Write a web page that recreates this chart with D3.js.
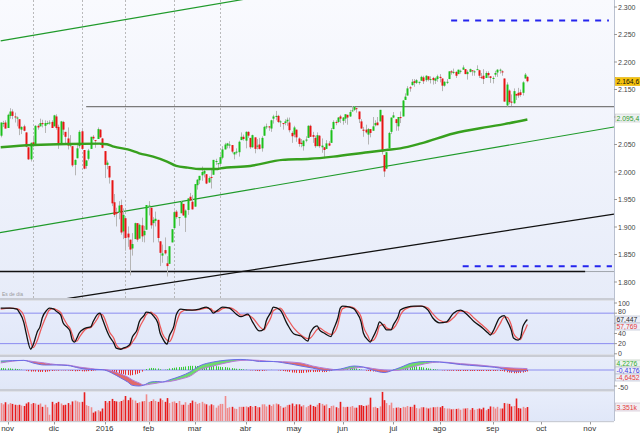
<!DOCTYPE html>
<html><head><meta charset="utf-8">
<script src="https://cdn.jsdelivr.net/npm/d3@7"></script>
<style>body{margin:0;background:#fff}svg{display:block;font-family:"Liberation Sans",Arial,sans-serif}</style>
</head><body><svg id="c" width="640" height="434"></svg>
<script>
// ---------- DATA (trading-day index 0 = 28 Oct 2015, 228 = 23 Sep 2016) ----------
const opens = [
2066,2088,2090,
2080,2102,2110,2101,2098,2096,2077,2083,2072,2045,2023,2054,2051,2084,2083,2089,2084,2089,2089,2091,
2083,2101,2082,2051,2091,2073,2061,2048,2047,2013,2025,2047,2074,2040,2011,2024,2042,2064,2058,2060,2077,2061,
2038,2013,2011,1985,1945,1927,1927,1940,1892,1916,1888,1877,1861,1878,1907,1879,1903,1885,1895,
1937,1935,1907,1911,1913,1874,1848,1858,1834,1833,1872,1898,1928,1917,1925,1942,1917,1931,1955,1946,
1937,1976,1985,1994,1997,1996,1981,1991,1995,2019,2015,2015,2026,2041,2048,2048,2049,2032,2037,2036,2058,2064,
2057,2073,2062,2045,2063,2046,2050,2043,2066,2082,2083,2079,2097,2100,2102,2091,2089,2089,2092,2090,2071,
2068,2077,2061,2053,2047,2057,2062,2084,2067,2062,2047,2066,2045,2045,2042,2052,2053,2078,2091,2091,2101,
2093,2097,2104,2101,2111,2113,2116,2110,2092,2077,2077,2068,2078,2075,2085,2090,2092,2103,2031,2006,2043,2073,
2099,2096,2083,2100,2101,2131,2139,2154,2158,2165,2162,2163,2166,2172,2167,2174,2169,2171,2166,2169,
2173,2170,2157,2163,2169,2183,2182,2182,2178,2183,2186,2187,2178,2182,2185,2182,2187,2185,2173,2175,2171,2180,2174,
2171,2177,2181,2186,2183,2170,2121,2148,2128,2125,2142,2144,2145,2144,2170,2173];
const highs = [
2090,2093,2094,
2106,2116,2114,2108,2101,2096,2083,2086,2072,2045,2054,2066,2085,2087,2097,2095,2094,2093,2094,2094,
2104,2105,2086,2093,2093,2073,2081,2067,2047,2023,2053,2076,2077,2040,2022,2042,2064,2067,2058,2081,2078,2062,
2038,2021,2011,1985,1960,1935,1947,1950,1934,1916,1901,1877,1889,1908,1907,1906,1917,1902,1940,
1947,1935,1918,1928,1913,1874,1868,1881,1847,1865,1896,1930,1931,1918,1947,1942,1932,1952,1962,1958,
1978,1987,1993,2010,2006,1996,1992,2006,2022,2024,2016,2032,2047,2053,2053,2056,2049,2036,2043,2057,2072,2068,
2074,2074,2062,2068,2063,2060,2062,2065,2084,2088,2083,2095,2104,2111,2104,2094,2089,2096,2099,2099,2074,
2084,2077,2063,2060,2058,2065,2085,2086,2073,2066,2072,2067,2061,2045,2058,2056,2080,2094,2094,2100,2104,
2100,2105,2104,2113,2120,2120,2117,2110,2096,2082,2086,2080,2078,2100,2094,2100,2113,2103,2031,2036,2073,2099,
2109,2096,2100,2110,2131,2143,2156,2156,2169,2169,2169,2164,2175,2175,2176,2174,2174,2173,2172,2177,
2178,2170,2165,2169,2183,2185,2188,2183,2186,2186,2194,2187,2185,2188,2185,2185,2194,2186,2180,2187,2183,2183,2174,
2174,2184,2187,2188,2185,2170,2163,2150,2141,2152,2142,2153,2150,2165,2180,2174];
const lows = [
2063,2082,2079,
2080,2097,2096,2090,2083,2067,2069,2074,2045,2022,2019,2045,2051,2077,2083,2081,2071,2086,2086,2080,
2083,2077,2042,2051,2067,2052,2041,2045,2009,1994,2025,2043,2041,2005,2006,2021,2042,2058,2044,2060,2062,2043,
1989,2005,1979,1938,1918,1901,1914,1886,1878,1857,1864,1812,1848,1878,1873,1879,1873,1872,1895,
1921,1897,1872,1901,1872,1829,1835,1850,1810,1833,1872,1898,1915,1902,1925,1920,1891,1922,1947,1932,
1937,1968,1978,1984,1990,1978,1980,1970,1995,2013,2005,2010,2023,2041,2043,2043,2034,2023,2032,2028,2058,2057,
2043,2062,2042,2044,2034,2041,2041,2037,2066,2078,2075,2073,2088,2094,2089,2082,2077,2085,2084,2072,2053,
2063,2055,2046,2045,2039,2054,2062,2064,2053,2044,2047,2044,2035,2025,2042,2047,2053,2078,2085,2089,2089,
2086,2089,2086,2100,2110,2111,2108,2089,2079,2064,2070,2050,2063,2075,2083,2085,2092,2032,1991,2006,2043,2069,
2098,2075,2075,2089,2101,2131,2139,2146,2157,2155,2160,2159,2166,2160,2164,2165,2161,2159,2160,2164,
2163,2147,2155,2160,2169,2177,2178,2171,2178,2179,2186,2178,2168,2181,2175,2175,2186,2171,2169,2160,2171,2171,2162,
2161,2173,2173,2179,2175,2128,2119,2123,2120,2124,2131,2135,2137,2139,2170,2163];
const closes = [
2090,2089,2079,
2104,2110,2102,2100,2099,2079,2082,2075,2046,2023,2053,2050,2084,2081,2089,2087,2089,2089,2090,2080,
2103,2080,2050,2092,2077,2064,2048,2052,2012,2022,2043,2073,2042,2006,2021,2039,2064,2061,2057,2078,2063,2044,
2013,2017,1990,1943,1922,1924,1939,1890,1922,1880,1881,1859,1869,1907,1877,1904,1883,1893,1940,
1939,1903,1913,1915,1880,1853,1852,1852,1829,1865,1896,1927,1918,1918,1946,1921,1930,1952,1948,1932,
1978,1986,1993,2000,2002,1979,1989,1990,2022,2020,2016,2027,2041,2050,2052,2050,2037,2036,2037,2055,2064,2060,
2073,2066,2045,2067,2042,2048,2042,2062,2082,2083,2081,2094,2101,2102,2091,2092,2088,2092,2095,2076,2065,
2081,2063,2051,2051,2057,2059,2084,2064,2064,2047,2067,2047,2048,2040,2052,2048,2076,2091,2090,2099,2097,
2099,2105,2099,2109,2112,2119,2115,2096,2079,2075,2072,2078,2071,2083,2089,2085,2113,2037,2001,2036,2071,2099,
2103,2089,2100,2098,2130,2137,2152,2152,2164,2162,2167,2164,2173,2165,2175,2168,2169,2167,2170,2174,
2171,2157,2164,2164,2183,2181,2182,2175,2186,2184,2190,2178,2182,2187,2184,2183,2187,2175,2172,2169,2180,2176,2171,
2171,2180,2186,2186,2181,2128,2159,2127,2126,2147,2139,2139,2140,2163,2177,2165];
const volumes = [
4.3,4.0,4.5,
4.0,4.3,4.1,3.9,3.8,3.9,3.7,3.6,4.2,4.5,4.1,4.3,4.2,3.9,4.2,3.4,3.9,3.3,1.5,4.6,
4.0,4.3,4.6,4.2,3.8,3.9,4.3,3.9,4.7,4.9,4.7,4.5,4.6,6.9,3.8,3.6,3.3,2.0,2.3,2.6,2.3,3.0,
4.8,4.4,4.8,5.3,4.8,4.7,4.6,4.8,5.1,6.0,5.0,5.6,5.1,4.9,4.3,4.5,4.7,4.8,6.4,
4.6,4.8,5.2,4.8,4.6,5.4,5.0,4.6,5.5,4.3,4.6,4.7,4.3,4.8,3.9,3.9,4.5,3.9,4.3,4.9,
4.6,4.1,4.3,4.6,4.2,4.0,3.7,4.0,3.8,3.2,3.7,4.1,4.1,6.0,3.1,3.3,3.4,3.0,2.9,3.4,3.4,3.4,
3.5,3.3,3.6,3.4,3.6,3.3,3.3,4.0,4.0,3.5,3.9,3.6,4.0,4.2,4.0,3.6,3.2,3.4,3.8,3.9,4.2,
3.6,4.0,4.0,3.5,3.8,3.3,3.6,3.9,3.6,3.4,3.9,4.3,4.1,3.7,4.0,3.1,3.6,3.7,3.3,3.1,4.6,
3.4,3.3,3.4,3.4,3.6,3.2,3.2,3.8,3.8,3.6,3.7,3.9,5.6,3.3,3.4,3.1,3.5,7.0,5.0,4.3,3.8,4.4,
3.1,3.2,3.3,3.1,3.4,3.3,3.6,3.4,3.4,3.9,3.1,3.0,3.3,3.3,3.2,3.0,3.2,3.3,3.3,3.4,
3.3,3.6,3.1,3.0,3.0,2.8,2.9,2.9,3.0,2.7,3.0,3.0,3.1,2.7,3.1,2.7,2.9,3.0,2.8,3.2,2.6,2.9,3.5,
3.4,3.0,3.4,3.0,3.0,4.3,4.2,4.1,3.5,3.6,5.4,3.1,3.0,3.4,3.1,3.35];
const macdHist = [
6,6,5,5,5,4,4,3,2,1,
0,-2,-4,-5,-4.5,-5,-6,-6,-6,-6.4,
-5,-4,-3,-2,-1.4,-2,-1,-1,-1.5,-1.6,
-2,-3,-4,-3.5,-3,-4,-4.5,-4,-3.5,-3.2,
-2,-1,0,0.5,0,-1.5,-2,-4,-6,-8,
-10,-11,-12.5,-13,-15,-15.5,-17,-16,-14,-12,
-9.4,-5,0,3,5,6.5,6,5,4.6,2,
0,1,2,5,6,7,8,9,9,10,
11,12,13,13,13,12.5,12.5,12,12,11,
12,12,12.5,12,11,10,9,9,8,7,
6,5,4,3.5,3,2,1,0,-1,-1,
-2,-3,-3.5,-3,-2,-1,0,0.5,0,0,
-1,-2,-3,-4,-5,-6,-8,-8,-9,-9.5,
-9.5,-9,-8,-7,-6.5,-6.5,-6,-6,-6,-6.5,
-6.5,-6.2,-4,-2,0,2,3,3,4,5,
6,6.5,6.5,6,5,3,1,0,-2,-3,
-4,-4.7,-4.5,-4,-4,-6,-8,-6,-3,0,
1.5,3,5,8,10,12,13,13,13,12,
11,10,9,8,6.5,5,4,3,2,1,
0,-1,-1.5,-2,-2,-2,-2.5,-2.5,-3,-3,
-3,-3,-3,-3,-3,-3,-3,-3,-3,-3,
-3,-3,-3,-3,-3,-2,-3,-3,-5,-7,
-8,-9,-10,-10,-9,-9,-8,-6,-4.6];

// 200-session moving average, read at sample days
const maIdx = [0,14,29,43,46,49,55,60,66,72,76,81,86,94,95,108,122,134,144,159,167,173,182,196,211,218,228];
const maVal = [2045,2049,2051,2051.5,2050.4,2046,2041,2034,2028,2019,2011,2008,2005.5,2005.5,2006.7,2011,2022,2024,2028,2036,2040,2043,2052,2070,2082,2087,2095.4];

// Stochastic %K / %D, read at sample days
const stochIdx = [0,4,7,8,10,11,13,14,16,17,18,20,21,23,24,26,27,29,30,31,32,33,34,36,37,39,40,42,43,44,46,47,49,50,52,53,55,56,57,59,60,62,63,65,66,68,69,70,72,73,75,76,78,81,83,86,89,91,92,94,96,99,102,104,107,109,112,114,115,117,118,121,124,127,130,133,134,137,138,140,143,144,146,147,148,151,153,154,156,157,159,160,161,163,164,166,167,169,170,172,173,176,179,182,185,187,190,193,196,199,202,205,208,211,212,213,216,218,219,221,222,224,225,226,227,228];
const stochK = [90,90,88,82,62,41,9,17,45,53,71,86,90,88,84,76,61,51,45,27,23,31,41,49,51,53,63,78,80,69,45,35,21,11,9,11,15,19,33,47,63,75,82,80,75,61,41,31,19,35,55,77,88,86,86,88,92,86,80,86,92,90,78,73,78,63,45,49,65,82,92,86,59,39,35,25,41,55,47,41,34,47,71,90,94,92,88,82,63,41,27,23,31,51,63,53,47,47,57,73,86,92,94,94,86,71,61,63,80,86,77,63,53,41,37,43,71,75,67,47,31,27,31,53,62,67.447];
const stochD = [88,90,89,87,75,58,25,12,28,42,55,77,86,89,87,81,72,56,50,38,26,25,32,45,49,52,57,70,78,77,57,44,30,18,10,10,13,16,23,38,51,68,77,82,79,70,55,40,27,24,43,60,82,87,86,87,90,89,84,83,89,91,84,76,76,71,54,47,55,72,85,90,70,50,37,30,31,48,51,45,38,40,58,78,89,93,90,86,73,54,35,26,26,40,55,58,51,48,50,64,76,90,93,94,90,79,66,62,71,84,82,70,58,46,41,39,58,72,72,57,40,30,28,38,47,57.769];

// MACD line / signal, read at sample days
const macdIdx = [0,10,14,19,24,29,34,39,43,45,48,52,55,57,60,62,65,68,70,73,78,82,86,92,98,104,109,112,118,122,130,135,141,147,153,157,161,166,170,173,178,184,190,199,207,216,222,226,228];
const macdLine = [28,30,22,15.6,15.6,14,6,1.5,1.5,0,-9,-25,-37.5,-48,-50,-47,-37.5,-36,-37.5,-31,-19,-6,12.5,25,31,33,30,26.5,26.5,23,12.5,6,-1.5,3,12.5,9,0,-8,0,8,22,26.5,25,17,12.5,6,-4,-3,-0.4176];
const macdSignal = [22,30,26.5,22,17,15.6,9,4.7,1.5,1.5,-3,-12.5,-22,-31,-40.6,-47,-44,-40.6,-37.5,-36,-28,-19,0,12.5,23,30,31,30,26.5,26,22,12.5,4.7,0,6,9,4.7,0,-1.5,0,9,20,25,20,15.6,9,6,5,4.2276];

// Drawn studies (day index, price)
const channelUpper = [[0,2238.4],[265.5,2429]];
const channelLower = [[-0.3,1889.6],[265.5,2081.8]];
const longTrend = [[-0.3,1751],[265.5,1923.6]];
const resistance = [[37,2119],[265.5,2119]];
const supportLine = [[-0.3,1819],[253,1819]];
const targetHigh = [[195,2275.5],[263.3,2275.5]];
const targetLow = [[200,1828.5],[264.6,1828.5]];
const markerDays = [14,35,54,75,95];

// Axes
const monthIdx = [3,23,45,64,84,106,127,148,170,190,213,234,255];
const monthLabels = ["nov","dic","2016","feb","mar","abr","may","jun","jul","ago","sep","oct","nov"];
const priceTicks = [1800,1850,1900,1950,2000,2050,2100,2150,2200,2250,2300];
const priceLabelTicks = [1800,1850,1900,1950,2000,2050,2150,2200,2250,2300];
const stochTicks = [0,20,40,60,80,100];
const stochLabelTicks = [0,20,40,100];
const lastLabels = {price:"2.164,6", ma:"2.095,4", k:"67,447", d:"57,769", macd:"-0,4176", signal:"4,2276", hist:"-4,6452", vol:"3.351k"};

// ---------- DRAW ----------
const svg = d3.select("#c");
const W = 614;
const x = d3.scaleLinear().domain([-0.3, 265.5]).range([0, W]);
const yP = d3.scaleLinear().domain([1800, 2300]).range([282, 7]);
const yS = d3.scaleLinear().domain([0, 100]).range([353.8, 303]);
const yM = d3.scaleLinear().domain([0, -50]).range([370, 386]);
const yV = d3.scaleLinear().domain([0, 7.2]).range([421, 391]);
const loc = d3.formatLocale({decimal:",", thousands:".", grouping:[3], currency:["",""]});
const fmtP = loc.format(",");

const defs = svg.append("defs");
const g1 = defs.append("linearGradient").attr("id","gMain").attr("x1",0).attr("y1",0).attr("x2",0).attr("y2",1);
g1.append("stop").attr("offset","0").attr("stop-color","#f9fafe");
g1.append("stop").attr("offset","1").attr("stop-color","#e7ecf9");
const g2 = defs.append("linearGradient").attr("id","gSub").attr("x1",0).attr("y1",0).attr("x2",0).attr("y2",1);
g2.append("stop").attr("offset","0").attr("stop-color","#e8edfb");
g2.append("stop").attr("offset","1").attr("stop-color","#e0e7f8");
const panels = {main:[0,298], stoch:[300.5,354.5], macd:[357,389], vol:[391.5,421]};
Object.entries(panels).forEach(([k,[a,b]])=>{
  defs.append("clipPath").attr("id","cl_"+k).append("rect").attr("x",0).attr("y",a).attr("width",W).attr("height",b-a);
  svg.append("rect").attr("x",0).attr("y",a).attr("width",W).attr("height",b-a).attr("fill",k==="main"?"url(#gMain)":"url(#gSub)");
});
[[298,2.5],[354.5,2.5],[389,2.5],[421,1.2]].forEach(([y,h])=>svg.append("rect").attr("x",0).attr("y",y).attr("width",W).attr("height",h).attr("fill","#c9ccd4"));

// ---- main panel
const gm = svg.append("g").attr("clip-path","url(#cl_main)");
markerDays.forEach(d=>gm.append("line").attr("x1",Math.round(x(d))+0.5).attr("x2",Math.round(x(d))+0.5).attr("y1",0).attr("y2",298).attr("stroke","#aaaaaa").attr("stroke-dasharray","2,2").attr("stroke-width",0.8));
const ln = d3.line().x(d=>x(d[0])).y(d=>yP(d[1]));
gm.append("path").attr("d",ln(channelUpper)).attr("stroke","#1f9a2a").attr("stroke-width",1.2).attr("fill","none");
gm.append("path").attr("d",ln(channelLower)).attr("stroke","#1f9a2a").attr("stroke-width",1.2).attr("fill","none");
gm.append("path").attr("d",ln(longTrend)).attr("stroke","#111").attr("stroke-width",1.3).attr("fill","none");
gm.append("path").attr("d",ln(resistance)).attr("stroke","#7a7a7a").attr("stroke-width",1.3).attr("fill","none");
gm.append("path").attr("d",ln([[-0.3,1819],[265.5,1819]])).attr("stroke","#a0a4ac").attr("stroke-width",1).attr("fill","none");
gm.append("path").attr("d",ln(supportLine)).attr("stroke","#111").attr("stroke-width",1.6).attr("fill","none");
gm.append("path").attr("d",ln(targetHigh)).attr("stroke","#2424ee").attr("stroke-width",2).attr("stroke-dasharray","6,6").attr("fill","none");
gm.append("path").attr("d",ln(targetLow)).attr("stroke","#2424ee").attr("stroke-width",2).attr("stroke-dasharray","6,6").attr("fill","none");

const idx = d3.range(closes.length);
gm.selectAll(".wk").data(idx).join("line").attr("x1",i=>Math.round(x(i))+0.5).attr("x2",i=>Math.round(x(i))+0.5)
  .attr("y1",i=>yP(highs[i])).attr("y2",i=>yP(lows[i])).attr("stroke","#b5b5b5").attr("stroke-width",1);
gm.selectAll(".bd").data(idx).join("rect").attr("x",i=>Math.round(x(i))-0.5).attr("width",2)
  .attr("y",i=>yP(Math.max(opens[i],closes[i]))).attr("height",i=>Math.max(1,Math.abs(yP(opens[i])-yP(closes[i]))))
  .attr("fill",i=>closes[i]>=opens[i]?"#1cc11c":"#e81414");
gm.append("path").attr("d",d3.line().curve(d3.curveMonotoneX).x((d,j)=>x(maIdx[j])).y(d=>yP(d))(maVal))
  .attr("stroke","#37a01e").attr("stroke-width",2.4).attr("fill","none");

// ---- stochastic
const gs = svg.append("g").attr("clip-path","url(#cl_stoch)");
[20,80].forEach(v=>gs.append("line").attr("x1",0).attr("x2",W).attr("y1",yS(v)).attr("y2",yS(v)).attr("stroke","#8b8cf0").attr("stroke-width",1));
const sl = d3.line().curve(d3.curveMonotoneX).x((d,j)=>x(stochIdx[j])).y(d=>yS(d));
gs.append("path").attr("d",sl(stochD)).attr("stroke","#ec5a5a").attr("stroke-width",1.3).attr("fill","none");
gs.append("path").attr("d",sl(stochK)).attr("stroke","#111").attr("stroke-width",1.3).attr("fill","none");

// ---- MACD
const gd = svg.append("g").attr("clip-path","url(#cl_macd)");
gd.append("line").attr("x1",0).attr("x2",W).attr("y1",yM(0)).attr("y2",yM(0)).attr("stroke","#8b8cf0").attr("stroke-width",1);
gd.selectAll(".hb").data(idx).join("line").attr("x1",i=>Math.round(x(i))+0.5).attr("x2",i=>Math.round(x(i))+0.5)
  .attr("y1",yM(0)).attr("y2",i=>yM(macdHist[i])).attr("stroke",i=>macdHist[i]>=0?"#33cc33":"#e83030").attr("stroke-width",1);
const pts = macdIdx.map((d,j)=>({i:d,m:macdLine[j],s:macdSignal[j]}));
const cv = d3.curveMonotoneX;
const dAbove = d3.area().curve(cv).x(d=>x(d.i)).y0(357).y1(d=>yM(d.s))(pts);
const dBelow = d3.area().curve(cv).x(d=>x(d.i)).y0(389).y1(d=>yM(d.s))(pts);
defs.append("clipPath").attr("id","clA").append("path").attr("d",dAbove);
defs.append("clipPath").attr("id","clB").append("path").attr("d",dBelow);
const band = d3.area().curve(cv).x(d=>x(d.i)).y0(d=>yM(d.s)).y1(d=>yM(d.m))(pts);
gd.append("g").attr("clip-path","url(#clA)").append("path").attr("d",band).attr("fill","#6fd96f");
gd.append("g").attr("clip-path","url(#clB)").append("path").attr("d",band).attr("fill","#e06a6a");
gd.append("path").attr("d",d3.line().curve(cv).x(d=>x(d.i)).y(d=>yM(d.s))(pts)).attr("stroke","#b57ad8").attr("stroke-width",1).attr("fill","none");
gd.append("path").attr("d",d3.line().curve(cv).x(d=>x(d.i)).y(d=>yM(d.m))(pts)).attr("stroke","#6a6ee8").attr("stroke-width",1).attr("fill","none");

// ---- volume
const gv = svg.append("g").attr("clip-path","url(#cl_vol)");
gv.selectAll(".vb").data(idx).join("rect").attr("x",i=>Math.round(x(i))-0.3).attr("width",1.6)
  .attr("y",i=>yV(volumes[i])).attr("height",i=>yV(0)-yV(volumes[i]))
  .attr("fill",i=>closes[i]>=opens[i]?"#f08b8b":"#e81c1c");

// ---- right axis
svg.append("line").attr("x1",W+0.5).attr("x2",W+0.5).attr("y1",0).attr("y2",421).attr("stroke","#b9c0cf");
const ax = svg.append("g").attr("font-size",7).attr("fill","#444");
priceTicks.forEach(v=>ax.append("line").attr("x1",W).attr("x2",W+3).attr("y1",yP(v)).attr("y2",yP(v)).attr("stroke","#999"));
priceLabelTicks.forEach(v=>ax.append("text").attr("x",W+4).attr("y",yP(v)+2.5).text(fmtP(v)));
stochTicks.forEach(v=>ax.append("line").attr("x1",W).attr("x2",W+3).attr("y1",yS(v)).attr("y2",yS(v)).attr("stroke","#999"));
stochLabelTicks.forEach(v=>ax.append("text").attr("x",W+4).attr("y",yS(v)+2.5).text(v));
ax.append("text").attr("x",W+4).attr("y",yS(80)+1).text("80");
ax.append("line").attr("x1",W).attr("x2",W+3).attr("y1",yM(-50)).attr("y2",yM(-50)).attr("stroke","#999");
ax.append("text").attr("x",W+4).attr("y",yM(-50)+3.5).text("-50");

function tag(yc, txt, fill, stroke, color, h){
  h = h || 8;
  const g = svg.append("g");
  g.append("rect").attr("x",W+1.5).attr("y",yc-h/2).attr("width",25).attr("height",h).attr("fill",fill).attr("stroke",stroke).attr("stroke-width",0.6);
  g.append("text").attr("x",W+2.5).attr("y",yc+2.5).attr("font-size",6.8).attr("fill",color).text(txt);
}
tag(yP(maVal[maVal.length-1])-1.5, lastLabels.ma, "#eef1f1", "#c8cccc", "#2f9a2f");
tag(yP(closes[closes.length-1])+0.3, lastLabels.price, "#f5c20c", "#e2b000", "#111");
tag(319.5, lastLabels.k, "#eef0f8", "#b0b6c8", "#222", 7);
tag(326.5, lastLabels.d, "#eef0f8", "#b0b6c8", "#e23a3a", 7);
tag(363.5, lastLabels.signal, "#eef4ee", "#b0c0b0", "#2faa2f", 7);
tag(370.5, lastLabels.macd, "#eef0f8", "#b0b6c8", "#3a3ae0", 7);
tag(377.5, lastLabels.hist, "#eef0f8", "#b0b6c8", "#e23a3a", 7);
tag(407, lastLabels.vol, "#f2eef2", "#c8b8c8", "#e23a3a");

// ---- bottom axis
const bx = svg.append("g").attr("font-size",8).attr("fill","#333").attr("text-anchor","middle");
monthIdx.forEach((d,j)=>{
  bx.append("line").attr("x1",Math.round(x(d))+0.5).attr("x2",Math.round(x(d))+0.5).attr("y1",422).attr("y2",424.5).attr("stroke","#999");
  bx.append("text").attr("x",x(d)).attr("y",431).text(monthLabels[j]);
});
svg.append("text").attr("x",2).attr("y",296).attr("font-size",5).attr("fill","#999").text("Es de día");
</script></body></html>
